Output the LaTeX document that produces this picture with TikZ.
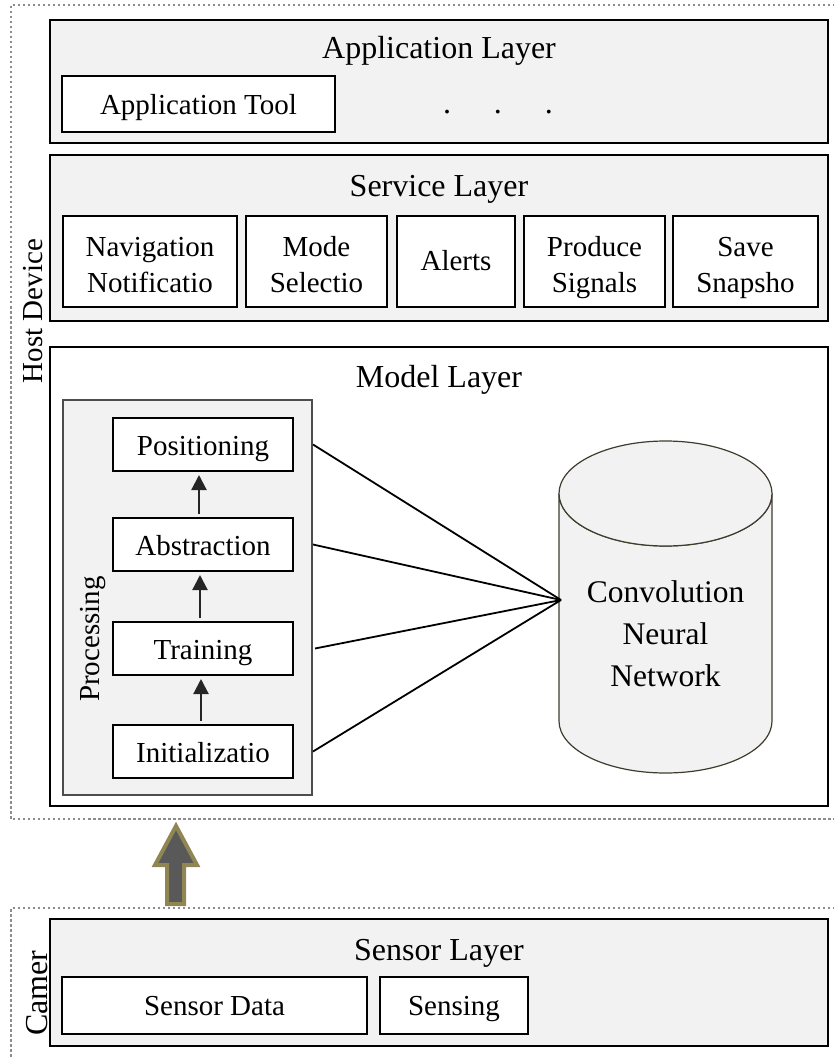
\documentclass[tikz,border=0pt]{standalone}
\usepackage{fontspec}
\setmainfont{Liberation Serif}
\usetikzlibrary{arrows.meta}
\definecolor{panel}{HTML}{F2F2F2}
\definecolor{dotgray}{HTML}{8C8C8C}
\definecolor{arrowolive}{RGB}{143,134,84}
\definecolor{arrowfill}{HTML}{595959}
\definecolor{cylline}{HTML}{3F3C2E}
\definecolor{procline}{HTML}{4D4D4D}
\definecolor{flowcol}{HTML}{262626}
\newcommand\titlefont{\fontsize{32}{38}\selectfont}
\newcommand\boxfont{\fontsize{29}{36}\selectfont}
\newcommand\cnnfont{\fontsize{31.5}{42}\selectfont}
\newcommand\firstline{\rule{0pt}{25pt}}
\newcommand\lastline[1]{\raisebox{0pt}[\height][0pt]{#1}}
\begin{document}
\begin{tikzpicture}[x=1pt,y=1pt,
  layer/.style={draw=black, line width=2.2pt, fill=panel, inner sep=0pt},
  item/.style={draw=black, line width=2pt, fill=white, inner sep=0pt, font=\boxfont, align=center},
  oneline/.style={item, text height=22pt, text depth=0pt},
  title/.style={anchor=base, font=\titlefont, inner sep=0pt},
  dotbox/.style={draw=dotgray, line width=2pt, dash pattern=on 2.5pt off 2.5pt},
  flow/.style={draw=flowcol, line width=2.2pt, -{Triangle[length=15pt,width=15pt]}, shorten <=3pt, shorten >=3pt},
  link/.style={draw=black, line width=1.8pt},
  cyl/.style={draw=cylline, line width=1.2pt, fill=panel},
  sidelabel/.style={rotate=90, anchor=base, inner sep=0pt}]
\useasboundingbox (0,0) rectangle (833,-1059);

% dotted device boxes
\draw[dotbox] (845,-5) -- (11,-5) -- (11,-819) -- (845,-819);
\draw[dotbox] (845,-908) -- (11,-908) -- (11,-1065);
\node[sidelabel, font=\boxfont] (host) at (42,-311) {Host Device};
\node[sidelabel, font=\titlefont] (cam) at (47,-993) {Camer};

% Application layer
\node[layer, minimum width=778pt, minimum height=123pt] (app) at (439,-81.5) {};
\node[title] (apptitle) at (439,-59) {Application Layer};
\node[oneline, minimum width=273pt, minimum height=56pt] (apptool) at (198.5,-104) {Application Tool};
\node[anchor=base, font=\titlefont, inner sep=0pt] (dots) at (498,-114) {.\hspace{43pt}.\hspace{43pt}.};

% Service layer
\node[layer, minimum width=778pt, minimum height=166pt] (svc) at (439,-238) {};
\node[title] (svctitle) at (439,-197) {Service Layer};
\node[item, minimum width=174pt, minimum height=91pt] (nav) at (150,-261.5) {\firstline Navigation\\\lastline{Notificatio}};
\node[item, minimum width=141pt, minimum height=91pt] (mode) at (316.5,-261.5) {\firstline Mode\\\lastline{Selectio}};
\node[oneline, text height=17pt, minimum width=118pt, minimum height=91pt] (alerts) at (456,-261.5) {Alerts};
\node[item, minimum width=141pt, minimum height=91pt] (produce) at (594.5,-261.5) {\firstline Produce\\\lastline{Signals}};
\node[item, minimum width=145pt, minimum height=91pt] (save) at (745.5,-261.5) {\firstline Save\\\lastline{Snapsho}};

% Model layer
\node[layer, fill=white, minimum width=778pt, minimum height=459pt] (model) at (439,-576.5) {};
\node[title] (modeltitle) at (439,-387) {Model Layer};
\node[draw=procline, line width=2pt, fill=panel, inner sep=0pt, minimum width=249pt, minimum height=395pt] (proc) at (187.5,-597.5) {};
\node[sidelabel, font=\boxfont] (proclabel) at (99,-639) {Processing};
\node[oneline, minimum width=180pt, minimum height=53pt] (pos) at (203,-444.5) {Positioning};
\node[oneline, minimum width=180pt, minimum height=53pt] (abs) at (203,-544.5) {Abstraction};
\node[oneline, minimum width=180pt, minimum height=53pt] (train) at (203,-648.5) {Training};
\node[oneline, minimum width=180pt, minimum height=53pt] (init) at (203,-751.5) {Initializatio};
\draw[flow] ([xshift=-4pt]abs.north) -- ([xshift=-4pt]pos.south);
\draw[flow] ([xshift=-3pt]train.north) -- ([xshift=-3pt]abs.south);
\draw[flow] ([xshift=-2pt]init.north) -- ([xshift=-2pt]train.south);

% CNN cylinder
\draw[cyl] (559,-493.5) -- (559,-721) arc[start angle=180, end angle=360, x radius=106.5, y radius=52] -- (772,-493.5) arc[start angle=0, end angle=-180, x radius=106.5, y radius=52.5] -- cycle;
\draw[cyl] (665.5,-493.5) ellipse[x radius=106.5, y radius=52.5];
\node[font=\cnnfont, align=center, inner sep=0pt] (cnn) at (665.5,-634) {Convolution\\Neural\\Network};
\coordinate (hub) at (561,-600);
\draw[link] (pos.east -| proc.east) -- (hub);
\draw[link] (abs.east -| proc.east) -- (hub);
\draw[link] ([xshift=2pt]train.east -| proc.east) -- (hub);
\draw[link] (init.east -| proc.east) -- (hub);

% big up arrow
\draw[line width=4pt, draw=arrowolive, fill=arrowfill, line join=miter]
  (176,-826) -- (197,-865) -- (184,-865) -- (184,-904) -- (167,-904) -- (167,-865) -- (155,-865) -- cycle;

% Sensor layer
\node[layer, minimum width=778pt, minimum height=127pt] (sensor) at (439,-982.5) {};
\node[title] (sensortitle) at (439,-960) {Sensor Layer};
\node[oneline, text height=20pt, minimum width=305pt, minimum height=57pt] (sdata) at (214.5,-1005.5) {Sensor Data};
\node[oneline, text height=20pt, minimum width=148pt, minimum height=57pt] (sensing) at (454,-1005.5) {Sensing};
\end{tikzpicture}
\end{document}
